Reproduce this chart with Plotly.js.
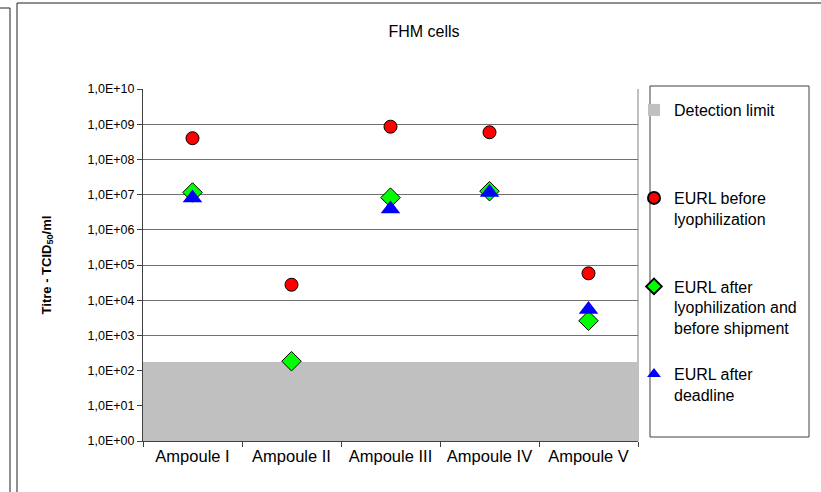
<!DOCTYPE html>
<html><head><meta charset="utf-8">
<script src="https://cdn.plot.ly/plotly-3.0.1.min.js"></script>
<style>html,body{margin:0;padding:0;background:#fff;overflow:hidden}</style>
</head><body><div id="chart" style="width:821px;height:492px"></div>
<script>
// ---- data ----
const categories = ['Ampoule I', 'Ampoule II', 'Ampoule III', 'Ampoule IV', 'Ampoule V'];
const detectionLimit = [180, 180, 180, 180, 180];
const beforeLyophilization = [4.0e8, 2.75e4, 8.5e8, 5.9e8, 5.8e4];
const afterLyophilizationBeforeShipment = [1.15e7, 1.85e2, 8.2e6, 1.25e7, 2.6e3];
const afterDeadline = [8.0e6, null, 3.9e6, 1.15e7, 5.4e3];
const yTickVals = [1e0, 1e1, 1e2, 1e3, 1e4, 1e5, 1e6, 1e7, 1e8, 1e9, 1e10];
const yTickText = ['1,0E+00', '1,0E+01', '1,0E+02', '1,0E+03', '1,0E+04', '1,0E+05',
                   '1,0E+06', '1,0E+07', '1,0E+08', '1,0E+09', '1,0E+10'];
const seriesNames = ['Detection limit', 'EURL before<br>lyophilization',
                     'EURL after<br>lyophilization and<br>before shipment', 'EURL after<br>deadline'];

// ---- geometry helpers (plot area in pixels) ----
const W = 821, H = 492;
const M = {l: 143, r: 183, t: 89, b: 51};
const pw = W - M.l - M.r, ph = H - M.t - M.b;
const fx = px => (px - M.l) / pw;
const fy = py => (H - M.b - py) / ph;

const FONT = '"Liberation Sans", Arial, sans-serif';

const traces = [
  {type: 'bar', x: categories, y: detectionLimit, width: 1, name: seriesNames[0],
   marker: {color: '#C0C0C0', line: {width: 0}}, legend: 'legend', hoverinfo: 'skip'},
  {type: 'scatter', mode: 'markers', x: categories, y: beforeLyophilization, name: seriesNames[1],
   marker: {symbol: 'circle', size: 13, color: '#FF0000', line: {color: '#000000', width: 1}}, legend: 'legend2'},
  {type: 'scatter', mode: 'markers', x: categories, y: afterLyophilizationBeforeShipment, name: seriesNames[2],
   marker: {symbol: 'diamond', size: 15, color: '#00FF00', line: {color: '#000000', width: 1}}, legend: 'legend3'},
  {type: 'scatter', mode: 'markers', x: categories, y: afterDeadline, name: seriesNames[3],
   marker: {symbol: 'triangle-up', size: 17, color: '#0000FF', line: {color: '#0000FF', width: 0}}, legend: 'legend4'}
];

const legendBase = {xanchor: 'left', yanchor: 'top', bgcolor: 'rgba(0,0,0,0)', borderwidth: 0,
  valign: 'top', itemsizing: 'constant', font: {family: FONT, size: 16, color: '#000'}, x: fx(634)};

const layout = {
  width: W, height: H,
  margin: M,
  paper_bgcolor: '#ffffff', plot_bgcolor: '#ffffff',
  font: {family: FONT, color: '#000'},
  showlegend: true,
  bargap: 0,
  title: {text: 'FHM cells', font: {family: FONT, size: 16, color: '#000'},
          xref: 'paper', x: fx(424), xanchor: 'center', yref: 'container', y: 1 - 31 / H, yanchor: 'middle'},
  xaxis: {type: 'category', range: [-0.5, 4.5], showgrid: false, showline: true, linecolor: '#404040', linewidth: 1,
          ticks: 'outside', tickson: 'boundaries', ticklen: 5, tickcolor: '#404040',
          tickfont: {family: FONT, size: 16.5, color: '#000'}, fixedrange: true},
  yaxis: {type: 'log', range: [0, 10], tickvals: yTickVals, ticktext: yTickText,
          showgrid: true, gridcolor: '#707070', gridwidth: 1, zeroline: false,
          showline: true, linecolor: '#404040', linewidth: 1, ticks: 'outside', ticklen: 5, tickcolor: '#404040',
          tickfont: {family: FONT, size: 12.5, color: '#000'},
          title: {text: '<b>Titre - TCID<sub>50</sub>/ml</b>', font: {family: FONT, size: 13, color: '#000'}, standoff: 33},
          fixedrange: true},
  legend: Object.assign({}, legendBase, {y: fy(93)}),
  legend2: Object.assign({}, legendBase, {y: fy(181)}),
  legend3: Object.assign({}, legendBase, {y: fy(269.5)}),
  legend4: Object.assign({}, legendBase, {y: fy(357)}),
  shapes: [
    // plot area right border
    {type: 'line', xref: 'paper', yref: 'paper', x0: 1, x1: 1, y0: 0, y1: 1, layer: 'below',
     line: {color: '#808080', width: 1}},
    // legend box
    {type: 'rect', xref: 'paper', yref: 'paper', x0: fx(650), x1: fx(809), y0: fy(437), y1: fy(86),
     line: {color: '#404040', width: 1}},
    // chart frame
    {type: 'line', xref: 'paper', yref: 'paper', x0: fx(17), x1: fx(17), y0: fy(3), y1: fy(495),
     line: {color: '#202020', width: 1}},
    {type: 'line', xref: 'paper', yref: 'paper', x0: fx(17), x1: fx(825), y0: fy(3), y1: fy(3),
     line: {color: '#202020', width: 1}},
    // neighbouring frame edge
    {type: 'line', xref: 'paper', yref: 'paper', x0: fx(10), x1: fx(10), y0: fy(8), y1: fy(495),
     line: {color: '#202020', width: 1}},
    {type: 'line', xref: 'paper', yref: 'paper', x0: fx(-5), x1: fx(10), y0: fy(8), y1: fy(8),
     line: {color: '#202020', width: 1}}
  ]
};

Plotly.newPlot('chart', traces, layout, {displayModeBar: false, staticPlot: true});
</script>
</body></html>
